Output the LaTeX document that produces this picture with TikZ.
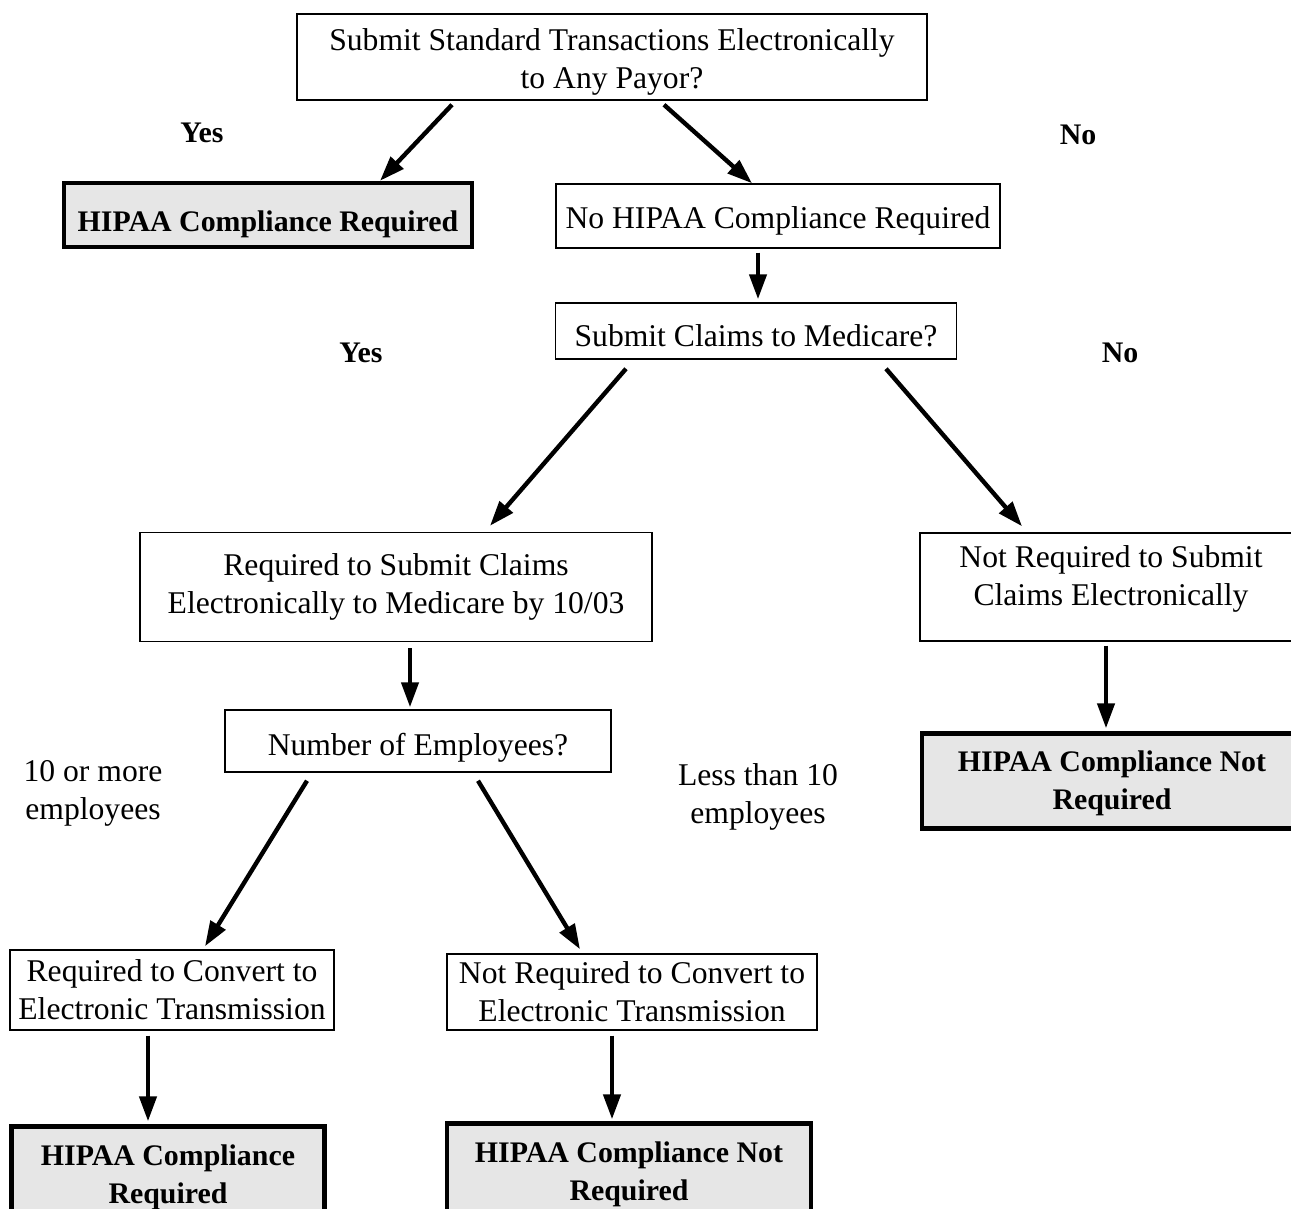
\documentclass[tikz,border=0pt]{standalone}
\usepackage{fontspec}
\setmainfont{Liberation Serif}
\usepackage{tikz}
\usetikzlibrary{arrows.meta, positioning, calc}
\usepackage{xcolor}
\definecolor{endgray}{HTML}{E6E6E6}
\tikzset{
  qbox/.style={rectangle, draw=black, line width=0.85pt, fill=white,
               align=center, inner sep=0pt,
               font=\fontsize{18}{21.6}\selectfont},
  endbox/.style={qbox, line width=2.5pt, fill=endgray,
                 font=\fontsize{17}{21.6}\selectfont\bfseries},
  arrow/.style={-{Triangle[length=0.5cm, width=0.34cm]}, line width=2.5pt},
  anslbl/.style={font=\fontsize{17}{21.6}\selectfont\bfseries},
  cntlbl/.style={align=center, font=\fontsize{18}{21.6}\selectfont},
}

\begin{document}
\begin{tikzpicture}[x=0.02cm, y=-0.02cm]
  \useasboundingbox (0,0) rectangle (1291,1209);

  % questions and outcomes
  \node[qbox, minimum width=12.6cm, minimum height=1.72cm,
        text height=39.6pt, text depth=3.9pt] (payor) at (612,57)
    {Submit Standard Transactions Electronically\\to Any Payor?};
  \node[endbox, minimum width=8.16cm, minimum height=1.28cm,
        text height=23pt, text depth=3.7pt] (reqA) at (268,215)
    {HIPAA Compliance Required};
  \node[qbox, minimum width=8.88cm, minimum height=1.28cm,
        text height=18pt, text depth=3.9pt] (noreq) at (778,216)
    {No HIPAA Compliance Required};
  \node[qbox, minimum width=8.02cm, minimum height=1.12cm,
        text height=18pt, text depth=0pt] (medicare) at (756,331)
    {Submit Claims to Medicare?};
  \node[qbox, minimum width=10.24cm, minimum height=2.18cm] (subreq) at (396,587)
    {Required to Submit Claims\\Electronically to Medicare by 10/03};
  \node[qbox, minimum width=7.64cm, minimum height=2.16cm,
        text height=33.9pt, text depth=13pt] (subnot) at (1111,587)
    {Not Required to Submit\\Claims Electronically};
  \node[endbox, minimum width=7.6cm, minimum height=1.9cm,
        text height=36.6pt, text depth=3.7pt] (notreqA) at (1112,781)
    {HIPAA Compliance Not\\Required};
  \node[qbox, minimum width=7.72cm, minimum height=1.24cm,
        text height=20.3pt, text depth=3.9pt] (employ) at (418,741)
    {Number of Employees?};
  \node[qbox, minimum width=6.48cm, minimum height=1.6cm] (convreq) at (172,990)
    {Required to Convert to\\Electronic Transmission};
  \node[qbox, minimum width=7.4cm, minimum height=1.52cm] (convnot) at (632,992)
    {Not Required to Convert to\\Electronic Transmission};
  \node[endbox, minimum width=6.26cm, minimum height=1.9cm,
        text height=37.2pt, text depth=3.7pt] (reqB) at (168,1174)
    {HIPAA Compliance\\Required};
  \node[endbox, minimum width=7.28cm, minimum height=1.9cm,
        text height=37.2pt, text depth=3.7pt] (notreqB) at (629,1171)
    {HIPAA Compliance Not\\Required};

  % answers
  \node[anslbl] (yesA) at (202,133) {Yes};
  \node[anslbl] (noA) at (1078,135) {No};
  \node[anslbl] (yesB) at (361,353) {Yes};
  \node[anslbl] (noB) at (1120,353) {No};
  \node[cntlbl] (many) at (93,793) {10 or more\\employees};
  \node[cntlbl] (few) at (758,797) {Less than 10\\employees};

  % arrows
  \draw[arrow] ($(payor.south)+(-160,4)$) -- ($(reqA.north)+(112,0)$);
  \draw[arrow] ($(payor.south)+(52,4)$) -- ($(noreq.north)+(-26,0)$);
  \draw[arrow] ($(noreq.south)+(-20,4)$) -- ($(medicare.north)+(2,-3)$);
  \draw[arrow] ($(medicare.south)+(-130,9)$) -- ($(subreq.north)+(94,-6)$);
  \draw[arrow] ($(medicare.south)+(130,9)$) -- ($(subnot.north)+(-89,-6)$);
  \draw[arrow] ($(subreq.south)+(14,6)$) -- ($(employ.north)+(-8,-2)$);
  \draw[arrow] ($(subnot.south)+(-5,4)$) -- ($(notreqA.north)+(-6,-3)$);
  \draw[arrow] ($(employ.south)+(-111,8)$) -- ($(convreq.north)+(33,-3)$);
  \draw[arrow] ($(employ.south)+(60,8)$) -- ($(convnot.north)+(-52,-4)$);
  \draw[arrow] ($(convreq.south)+(-24,5)$) -- ($(reqB.north)+(-20,-3)$);
  \draw[arrow] ($(convnot.south)+(-20,5)$) -- ($(notreqB.north)+(-17,-2)$);

\end{tikzpicture}
\end{document}
